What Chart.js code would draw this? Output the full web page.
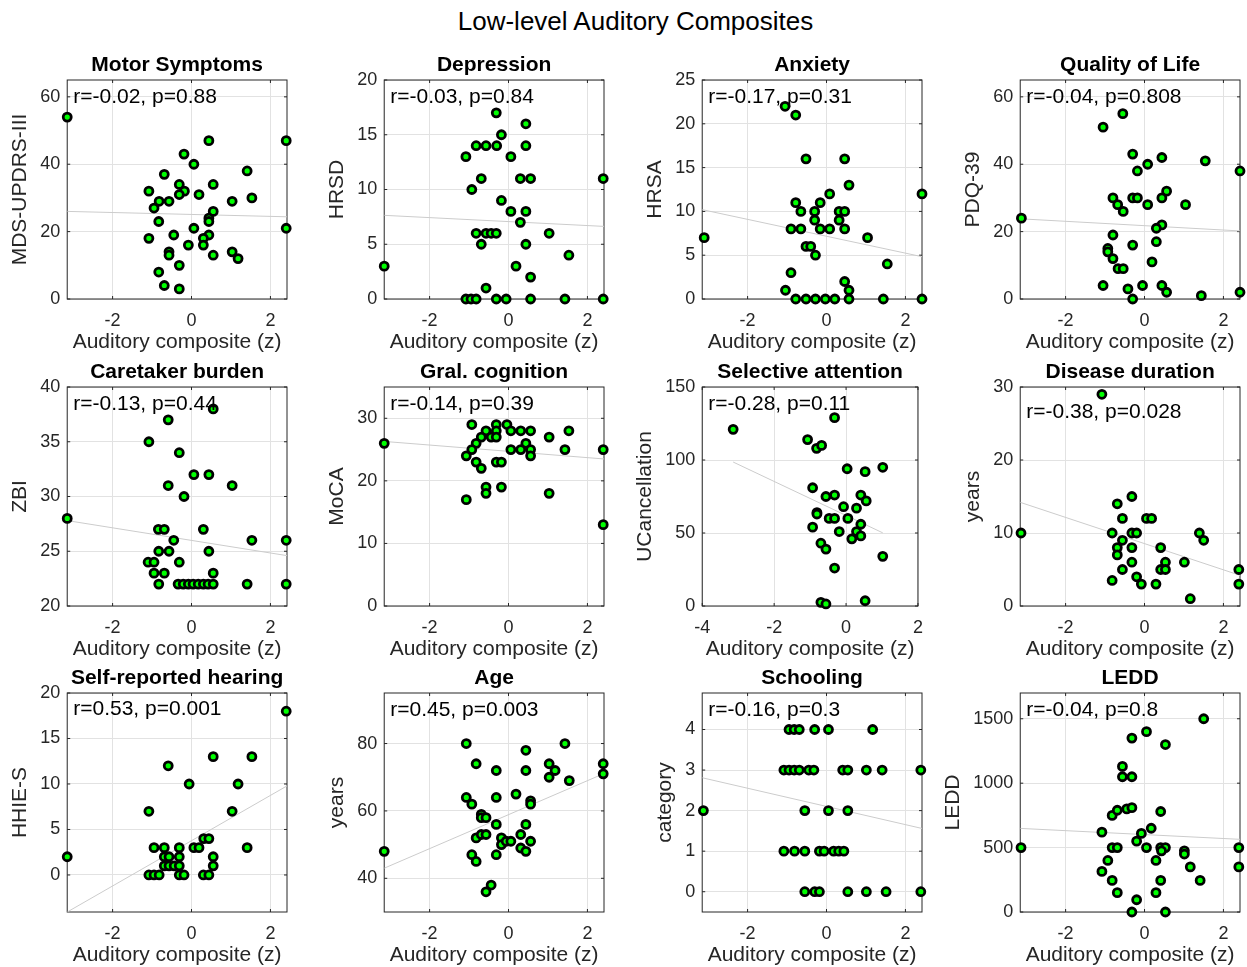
<!DOCTYPE html>
<html>
<head>
<meta charset="utf-8">
<script src="https://cdn.jsdelivr.net/npm/chart.js@4/dist/chart.umd.min.js"></script>
<style>
  body { margin: 0; background: #fff; width: 1247px; height: 967px; position: relative; overflow: hidden;
         font-family: "Liberation Sans", Arial, Helvetica, sans-serif; }
  #suptitle { position: absolute; left: 12px; width: 1247px; top: 6px; text-align: center; font-size: 26px; color: #000; }
  canvas { position: absolute; }
</style>
</head>
<body>
<div id="suptitle">Low-level Auditory Composites</div>
<script>
// ---- data ----
const titles = ["Motor Symptoms", "Depression", "Anxiety", "Quality of Life",
                "Caretaker burden", "Gral. cognition", "Selective attention", "Disease duration",
                "Self-reported hearing", "Age", "Schooling", "LEDD"];
const yLabels = ["MDS-UPDRS-III", "HRSD", "HRSA", "PDQ-39", "ZBI", "MoCA", "UCancellation", "years",
                 "HHIE-S", "years", "category", "LEDD"];
const statLabels = ["r=-0.02, p=0.88", "r=-0.03, p=0.84", "r=-0.17, p=0.31", "r=-0.04, p=0.808",
                    "r=-0.13, p=0.44", "r=-0.14, p=0.39", "r=-0.28, p=0.11", "r=-0.38, p=0.028",
                    "r=0.53, p=0.001", "r=0.45, p=0.003", "r=-0.16, p=0.3", "r=-0.04, p=0.8"];
const xLabel = "Auditory composite (z)";

const xTicks = [-2, 0, 2];
const xTicksWide = [-4, -2, 0, 2];
const yTickLists = [[0, 20, 40, 60], [0, 5, 10, 15, 20], [0, 5, 10, 15, 20, 25], [0, 20, 40, 60],
                    [20, 25, 30, 35, 40], [0, 10, 20, 30], [0, 50, 100, 150], [0, 10, 20, 30],
                    [0, 5, 10, 15, 20], [40, 60, 80], [0, 1, 2, 3, 4], [0, 500, 1000, 1500]];
const yRanges = [[0, 65], [0, 20], [0, 25], [0, 65], [20, 40], [0, 35], [0, 150], [0, 30],
                 [-4.07, 20], [30, 95], [-0.5, 4.9], [0, 1700]];
const xRange = [-3.15, 2.42];
const xRangeWide = [-4, 2];

// regression line end points
const fitX = [[-3.15, 2.42], [-3.15, 2.42], [-3.15, 2.42], [-3.15, 2.42],
              [-3.15, 2.42], [-3.15, 2.42], [-3.14, 1.02], [-3.15, 2.42],
              [-3.15, 2.42], [-3.15, 2.42], [-3.15, 2.42], [-3.15, 2.42]];
const fitY = [[26.0, 24.4], [7.64, 6.63], [10.2, 4.83], [23.8, 20.2],
              [27.8, 24.6], [26.3, 23.5], [98.6, 50.1], [14.2, 4.2],
              [-4.07, 9.79], [43, 71.1], [2.81, 1.56], [649, 564]];

const motorPts = [[-3.15,54],[0.44,47],[2.4,47],[-0.19,43],[0.06,40],[-0.69,37],[1.41,38],[-0.31,34],[0.55,34],
  [-1.08,32],[-0.18,32],[-0.31,31],[0.19,31],[-0.82,29],[-0.57,29],[1.03,29],[1.53,30],[-0.95,27],[0.55,26],
  [0.44,24],[0.44,23],[-0.83,23],[0.06,21],[2.4,21],[-1.08,18],[-0.45,19],[0.44,19],[0.3,18],[-0.08,16],[0.3,16],
  [-0.57,14],[-0.57,13],[0.55,13],[1.03,14],[1.18,12],[-0.31,10],[-0.83,8],[-0.69,4],[-0.31,3]];
const depressionPts = [[-0.31,17],[0.44,16],[-0.18,15],[-0.82,14],[-0.57,14],[-0.3,14],[0.44,14],[-1.08,13],[0.06,13],
  [-0.69,11],[0.3,11],[0.56,11],[2.4,11],[-0.93,10],[-0.18,9],[0.06,8],[0.44,8],[0.3,7],[-0.82,6],[-0.57,6],[-0.44,6],
  [-0.31,6],[1.03,6],[-0.69,5],[0.44,5],[1.53,4],[-3.15,3],[0.19,3],[0.56,2],[-0.57,1],[-1.08,0],[-0.95,0],[-0.82,0],
  [-0.31,0],[-0.06,0],[0.56,0],[1.43,0],[2.4,0]];
const anxietyPts = [[-1.05,22],[-0.78,21],[-0.52,16],[0.46,16],[0.57,13],[0.08,12],[2.42,12],[-0.78,11],[-0.16,11],
  [-0.65,10],[-0.3,10],[0.32,10],[0.46,10],[-0.3,9],[0.32,9],[-0.9,8],[-0.65,8],[-0.16,8],[0.08,8],[0.46,8],[-3.1,7],
  [1.04,7],[-0.52,6],[-0.4,6],[-0.28,5],[1.54,4],[-0.9,3],[0.46,2],[0.57,1],[-1.04,1],[-0.78,0],[-0.52,0],[-0.28,0],
  [-0.03,0],[0.21,0],[0.57,0],[1.44,0],[2.42,0]];
const qolPts = [[-0.55,55],[-1.05,51],[-0.3,43],[0.44,42],[0.08,40],[1.54,41],[-0.18,38],[2.42,38],[0.56,32],[-0.8,30],
  [-0.3,30],[-0.18,30],[0.44,30],[-0.68,28],[0.08,28],[1.04,28],[-0.54,26],[-3.12,24],[0.44,22],[0.3,21],[-0.8,19],
  [0.3,17],[-0.3,16],[-0.93,15],[-0.93,14],[-0.8,12],[-0.67,9],[-0.54,9],[0.19,11],[-1.05,4],[-0.42,3],[-0.05,4],
  [0.44,4],[0.56,2],[1.44,1],[2.42,2],[-0.3,0]];
const burdenPts = [[0.55,38],[-0.59,37],[-1.08,35],[-0.31,34],[0.06,32],[0.44,32],[-0.59,31],[1.03,31],[-0.19,30],
  [-3.15,28],[-0.84,27],[-0.69,27],[0.3,27],[-0.45,26],[1.53,26],[2.4,26],[-0.83,25],[-0.57,25],[0.44,25],[-1.1,24],
  [-0.95,24],[-0.31,24],[-0.95,23],[-0.69,23],[0.55,23],[-0.83,22],[-0.34,22],[-0.21,22],[-0.08,22],[0.04,22],
  [0.17,22],[0.3,22],[0.42,22],[0.55,22],[1.41,22],[2.4,22]];
const cognitionPts = [[-3.15,26],[-0.93,29],[-0.31,29],[-0.04,29],[-0.57,28],[-0.31,28],[0.06,28],[0.31,28],[0.56,28],
  [1.53,28],[-0.69,27],[-0.44,27],[-0.31,27],[1.03,27],[-0.82,26],[0.44,26],[-0.93,25],[0.06,25],[0.31,25],[0.56,25],
  [1.43,25],[2.4,25],[-1.07,24],[0.56,24],[-0.82,23],[-0.31,23],[-0.18,23],[-0.69,22],[-0.57,19],[-0.57,18],
  [-0.18,19],[1.03,18],[-1.07,17],[2.4,13]];
const attentionPts = [[-3.14,121],[-0.32,129],[-1.07,114],[-0.82,108],[-0.68,110],[0.03,94],[0.53,92],[1.02,95],
  [-0.93,81],[-0.56,75],[-0.32,76],[0.41,76],[0.56,72],[-0.07,68],[0.29,67],[-0.81,64],[-0.81,63],[-0.47,60],
  [-0.32,60],[0.05,60],[0.41,56],[-0.93,54],[-0.19,51],[0.29,51],[0.41,48],[0.16,46],[-0.7,43],[-0.56,39],[1.02,34],
  [-0.32,26],[-0.7,2.5],[-0.56,1.4],[0.53,3.6]];
const durationPts = [[-1.08,29],[-0.32,15],[-0.69,14],[-0.56,12],[0.05,12],[0.18,12],[-3.13,10],[-0.82,10],[-0.32,10],
  [-0.2,10],[1.39,10],[1.5,9],[-0.56,9],[-0.69,8],[-0.32,8],[0.41,8],[-0.69,7],[-0.32,6],[0.53,6],[1.01,6],[-0.56,5],
  [0.41,5],[0.53,5],[2.39,5],[-0.82,3.5],[-0.2,4],[-0.08,3],[0.29,3],[2.39,3],[1.16,1]];
const hearingPts = [[2.4,18],[0.55,13],[1.53,13],[-0.59,12],[-0.06,10],[1.18,10],[-1.08,7],[1.03,7],[0.31,4],[0.44,4],
  [-3.15,2],[-0.95,3],[-0.69,3],[-0.31,3],[0.06,3],[0.19,3],[1.41,3],[-0.69,2],[-0.57,2],[-0.31,2],[0.55,2],
  [-0.69,1],[-0.57,1],[-0.44,1],[-0.31,1],[0.55,1],[-1.08,0],[-0.95,0],[-0.82,0],[-0.31,0],[-0.19,0],[0.3,0],[0.44,0]];
const agePts = [[-1.07,80],[1.43,80],[0.44,78],[-0.82,74],[-0.31,72],[0.44,72],[1.03,74],[1.18,72],[1.03,70],[1.54,69],
  [2.4,74],[2.4,71],[-1.07,64],[-0.93,62],[-0.31,64],[0.19,65],[0.56,63],[0.56,62],[-0.69,59],[-0.69,58],[-0.57,58],
  [-0.31,56],[0.44,56],[-0.82,52],[-0.69,53],[-0.57,53],[-0.18,52],[-0.18,50],[-0.06,51],[0.06,51],[0.31,53],
  [0.56,51],[0.31,49],[0.44,48],[-3.15,48],[-0.31,47],[-0.93,47],[-0.82,45],[-0.44,38],[-0.57,36]];
const schoolingPts = [[-0.95,4],[-0.82,4],[-0.69,4],[-0.3,4],[0.05,4],[1.17,4],
  [-1.08,3],[-0.95,3],[-0.82,3],[-0.69,3],[-0.45,3],[-0.32,3],[0.41,3],[0.54,3],[1.01,3],[1.41,3],[2.39,3],
  [-3.12,2],[-0.55,2],[0.05,2],[0.54,2],
  [-1.08,1],[-0.81,1],[-0.55,1],[-0.18,1],[-0.06,1],[0.18,1],[0.31,1],[0.44,1],
  [-0.55,0],[-0.3,0],[-0.18,0],[0.54,0],[1.01,0],[1.51,0],[2.39,0]];
const leddPts = [[1.5,1500],[0.05,1400],[-0.32,1350],[0.53,1300],[-0.56,1130],[-0.56,1050],[-0.32,1050],[-0.82,750],
  [-0.69,790],[-0.45,800],[-0.32,810],[0.41,780],[0.17,650],[-1.08,620],[-0.08,610],[-0.2,550],[-3.13,500],
  [-0.82,500],[-0.69,500],[0.05,500],[0.41,500],[0.53,500],[0.43,475],[1.01,475],[1.01,450],[2.39,500],[2.39,350],
  [-0.93,400],[0.29,400],[-1.08,315],[1.16,350],[-0.82,245],[0.41,245],[1.41,245],[-0.69,150],[0.29,150],
  [-0.2,95],[-0.32,0],[0.53,0]];

const panelPoints = [motorPts, depressionPts, anxietyPts, qolPts, burdenPts, cognitionPts,
                     attentionPts, durationPts, hearingPts, agePts, schoolingPts, leddPts];

// ---- layout ----
const PW = 219.4, PH = 219.3;
const colLeft = [67.3, 384.3, 702.3, 1020.3];
const rowTop = [80, 387, 693];
const statDy = [17, 17, 17, 17, 17, 17, 17, 25, 16, 17, 17, 17];
const TEXT = '#262626';
const FONT = '"Liberation Sans", Arial, Helvetica, sans-serif';

const axesDeco = {
  id: 'axesDeco',
  beforeDatasetsDraw(chart) {
    const { ctx, chartArea: a, scales: { x, y } } = chart;
    const tl = 3;
    ctx.save();
    ctx.strokeStyle = TEXT;
    ctx.lineWidth = 1;
    ctx.strokeRect(a.left, a.top, a.width, a.height);
    ctx.beginPath();
    x.ticks.forEach(t => {
      const px = x.getPixelForValue(t.value);
      ctx.moveTo(px, a.bottom); ctx.lineTo(px, a.bottom - tl);
      ctx.moveTo(px, a.top); ctx.lineTo(px, a.top + tl);
    });
    y.ticks.forEach(t => {
      const py = y.getPixelForValue(t.value);
      ctx.moveTo(a.left, py); ctx.lineTo(a.left + tl, py);
      ctx.moveTo(a.right, py); ctx.lineTo(a.right - tl, py);
    });
    ctx.stroke();
    ctx.restore();
  },
  afterDraw(chart, args, opts) {
    const { ctx, chartArea: a } = chart;
    ctx.save();
    ctx.fillStyle = '#000';
    ctx.textBaseline = 'middle';
    ctx.font = 'bold 21px ' + FONT;
    ctx.textAlign = 'center';
    ctx.fillText(opts.title, (a.left + a.right) / 2, a.top - 15);
    ctx.font = '21px ' + FONT;
    ctx.textAlign = 'left';
    ctx.fillText(opts.stat, a.left + 6, a.top + opts.statDy);
    ctx.restore();
  }
};

function buildConfig(i) {
  const wide = i === 6;
  const pts = panelPoints[i].map(p => ({ x: p[0], y: p[1] }));
  const fit = fitX[i].map((v, k) => ({ x: v, y: fitY[i][k] }));
  const xt = wide ? xTicksWide : xTicks;
  const xr = wide ? xRangeWide : xRange;
  const yt = yTickLists[i];
  return {
    type: 'scatter',
    data: {
      datasets: [
        { data: pts, pointRadius: 4, pointHoverRadius: 4, pointBackgroundColor: '#00ff00',
          pointBorderColor: '#000', pointBorderWidth: 2.8, clip: false, order: 1 },
        { type: 'line', data: fit, borderColor: '#cccccc', borderWidth: 1, pointRadius: 0,
          fill: false, order: 2 }
      ]
    },
    options: {
      responsive: false,
      maintainAspectRatio: false,
      animation: false,
      events: [],
      layout: { padding: { top: 30, right: 12, left: 0, bottom: 0 } },
      plugins: {
        legend: { display: false },
        tooltip: { enabled: false },
        axesDeco: { title: titles[i], stat: statLabels[i], statDy: statDy[i] }
      },
      scales: {
        x: {
          type: 'linear', min: xr[0], max: xr[1],
          afterBuildTicks: s => { s.ticks = xt.map(v => ({ value: v })); },
          afterFit: s => { s.height = 56; },
          grid: { color: '#e2e2e2', drawTicks: false },
          border: { display: false },
          ticks: { color: TEXT, font: { size: 18, family: FONT }, padding: 11, maxRotation: 0, autoSkip: false,
                   callback: v => String(v) },
          title: { display: true, text: xLabel, color: TEXT, font: { size: 21, family: FONT },
                   padding: { top: 0, bottom: 0 } }
        },
        y: {
          type: 'linear', min: yRanges[i][0], max: yRanges[i][1],
          afterBuildTicks: s => { s.ticks = yt.map(v => ({ value: v })); },
          grid: { color: '#e2e2e2', drawTicks: false },
          border: { display: false },
          ticks: { color: TEXT, font: { size: 18, family: FONT }, padding: 7, autoSkip: false,
                   callback: v => String(v) },
          title: { display: true, text: yLabels[i], color: TEXT, font: { size: 21, family: FONT },
                   padding: { top: 0, bottom: 0 } }
        }
      }
    },
    plugins: [axesDeco]
  };
}

panelPoints.forEach((pts, i) => {
  const col = i % 4, row = Math.floor(i / 4);
  // first pass: measure the axis sizes
  let cv = document.createElement('canvas');
  cv.width = 340; cv.height = 330;
  document.body.appendChild(cv);
  let chart = new Chart(cv, buildConfig(i));
  const a = chart.chartArea;
  const w = Math.round(a.left + PW + 12);
  const h = Math.round(a.top + PH + (330 - a.bottom));
  chart.destroy();
  cv.remove();

  // second pass: sized so the plot area matches
  cv = document.createElement('canvas');
  cv.width = w; cv.height = h;
  document.body.appendChild(cv);
  chart = new Chart(cv, buildConfig(i));
  const b = chart.chartArea;
  cv.style.left = (colLeft[col] - b.left) + 'px';
  cv.style.top = (rowTop[row] - b.top) + 'px';
});
</script>
</body>
</html>
